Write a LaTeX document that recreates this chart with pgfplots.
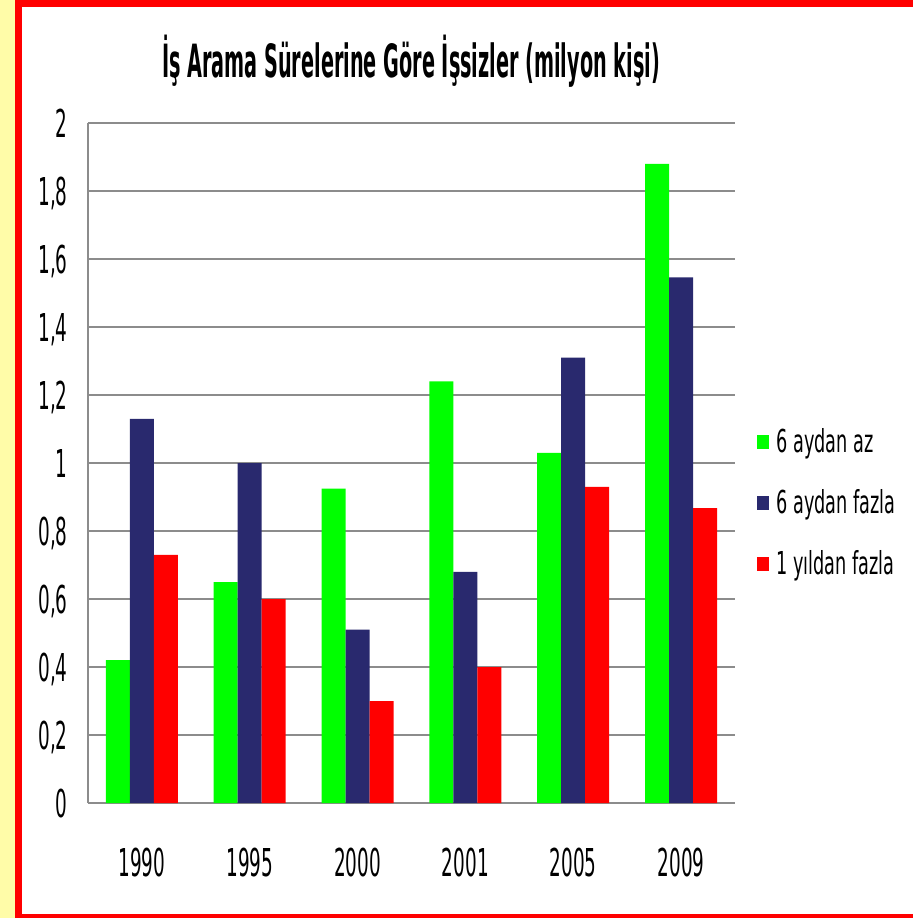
\documentclass[border=0pt]{standalone}
\usepackage{fontspec}
\setmainfont{DejaVu Sans}[FakeStretch=0.48]
\newfontfamily\titlefont{DejaVu Sans}[FakeStretch=0.42]
\newfontfamily\legfont{DejaVu Sans}[FakeStretch=0.56]
\usepackage{pgfplots}
\pgfplotsset{compat=1.18}
\definecolor{barGreen}{HTML}{00FF00}
\definecolor{barNavy}{HTML}{29296E}
\definecolor{barRed}{HTML}{FF0000}
\definecolor{gridGray}{HTML}{8C8C8C}
\definecolor{stripYellow}{HTML}{FFFCA8}

\begin{document}
\begin{tikzpicture}
% page: 913x918 px at 0.5pt per px
\useasboundingbox (0,0) rectangle (456.5pt,-459pt);
\fill[white] (0,0) rectangle (456.5pt,-459pt);
\fill[stripYellow] (0,0) rectangle (7.35pt,-459pt);
\fill[barRed] (7.35pt,0) rectangle (11pt,-459pt);
\fill[barRed] (7.35pt,0) rectangle (456.5pt,-3.65pt);
\fill[barRed] (7.35pt,-457pt) rectangle (456.5pt,-459pt);

\node[font=\titlefont\bfseries\fontsize{22.9pt}{26pt}\selectfont,anchor=base] at (205.5pt,-38.5pt)
  {İş Arama Sürelerine Göre İşsizler (milyon kişi)};

\begin{axis}[
at={(44pt,-401.5pt)},anchor=south west,
scale only axis,width=323.5pt,height=340pt,
ybar=0pt,bar width=12pt,
xmin=-0.5,xmax=5.5,ymin=0,ymax=2,
xtick={0,1,2,3,4,5},xticklabels={1990,1995,2000,2001,2005,2009},
ytick={0,0.2,0.4,0.6,0.8,1,1.2,1.4,1.6,1.8,2},
yticklabels={0,{0,2},{0,4},{0,6},{0,8},1,{1,2},{1,4},{1,6},{1,8},2},
tick label style={font=\fontsize{19.2pt}{23pt}\selectfont},
xticklabel style={inner sep=0pt,anchor=north,yshift=-22.5pt},
yticklabel style={inner sep=0pt,anchor=base east,xshift=-10pt,yshift=-7pt},
major tick length=0pt,
axis lines=left,axis line style={gridGray,line width=0.6pt,-},
ymajorgrids=true,grid style={gridGray,line width=0.6pt},
legend style={at={(1.034,0.441)},anchor=west,draw=none,fill=none,inner sep=0pt,
  font=\legfont\fontsize{15.8pt}{19pt}\selectfont,row sep=17pt,
  nodes={inner sep=0pt},column sep=3.5pt},
legend cell align=left,
legend image code/.code={\fill[#1] (0pt,-3.5pt) rectangle (6pt,3.5pt);},
]
\addplot[fill=barGreen,draw=none] coordinates {(0,0.42) (1,0.65) (2,0.925) (3,1.24) (4,1.03) (5,1.88)};
\addlegendentry{6 aydan az}
\addplot[fill=barNavy,draw=none] coordinates {(0,1.13) (1,1.00) (2,0.51) (3,0.68) (4,1.31) (5,1.546)};
\addlegendentry{6 aydan fazla}
\addplot[fill=barRed,draw=none] coordinates {(0,0.73) (1,0.60) (2,0.30) (3,0.40) (4,0.93) (5,0.867)};
\addlegendentry{1 yıldan fazla}
\end{axis}
\end{tikzpicture}
\end{document}
